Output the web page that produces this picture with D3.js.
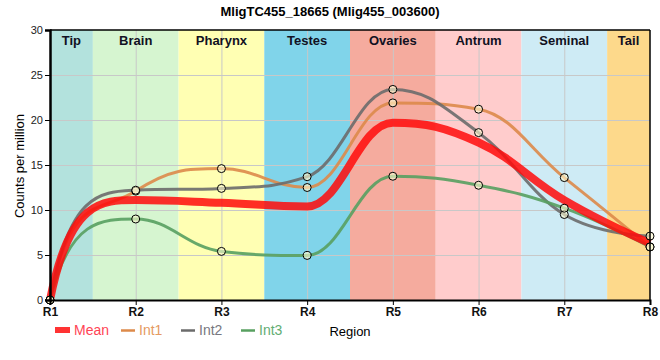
<!DOCTYPE html>
<html><head><meta charset="utf-8">
<script src="https://cdn.jsdelivr.net/npm/d3@7"></script>
<style>body{margin:0;background:#fff}svg{font-family:"Liberation Sans",Arial,sans-serif}</style>
</head><body><svg id="c" width="660" height="360"></svg>
<script>
const regions = ["R1","R2","R3","R4","R5","R6","R7","R8"];
const tissues = ["Tip","Brain","Pharynx","Testes","Ovaries","Antrum","Seminal","Tail"];
const tissueStart = [0, 0.5, 1.5, 2.5, 3.5, 4.5, 5.5, 6.5];
const tissueEnd   = [0.5, 1.5, 2.5, 3.5, 4.5, 5.5, 6.5, 7];
const tissueColors = ["#b3e2dd","#d6f5d0","#ffffb3","#80d4ea","#f5ab9e","#ffcccc","#ceebf5","#fdd98b"];
const meanVals = [0, 11.1, 10.8, 10.4, 19.7, 17.5, 11.1, 6.3];
const int1Vals = [0, 12.1, 14.6, 12.5, 21.9, 21.2, 13.6, 5.9];
const int2Vals = [0, 12.2, 12.4, 13.7, 23.4, 18.6, 9.5, 7.1];
const int3Vals = [0, 9.0, 5.4, 4.95, 13.75, 12.75, 10.2, 5.9];
const yTicks = [0, 5, 10, 15, 20, 25, 30];
const seriesNames = ["Mean","Int1","Int2","Int3"];

// Spline curve (control points at 1/2.5 of the neighbour distance, clamped at extremes)
function CurveSpline(context) { this._context = context; }
CurveSpline.prototype = {
  areaStart() {}, areaEnd() {},
  lineStart() { this._pts = []; },
  point(px, py) { this._pts.push([+px, +py]); },
  lineEnd() {
    const p = this._pts, c = this._context, n = p.length;
    if (!n) return;
    const sm = 1.5, den = sm + 1;
    const lc = [], rc = [];
    for (let i = 1; i < n - 1; i++) {
      const [x0, y0] = p[i-1], [x1, y1] = p[i], [x2, y2] = p[i+1];
      let lx = (sm*x1 + x0)/den, ly = (sm*y1 + y0)/den;
      let rx = (sm*x1 + x2)/den, ry = (sm*y1 + y2)/den;
      let corr = 0;
      if (rx !== lx) corr = ((ry - ly)*(rx - x1))/(rx - lx) + y1 - ry;
      ly += corr; ry += corr;
      if (ly > y0 && ly > y1) { ly = Math.max(y0, y1); ry = 2*y1 - ly; }
      else if (ly < y0 && ly < y1) { ly = Math.min(y0, y1); ry = 2*y1 - ly; }
      if (ry > y2 && ry > y1) { ry = Math.max(y2, y1); ly = 2*y1 - ry; }
      else if (ry < y2 && ry < y1) { ry = Math.min(y2, y1); ly = 2*y1 - ry; }
      lc[i] = [lx, ly]; rc[i] = [rx, ry];
    }
    if (n > 1) rc[0] = [p[0][0] + 0.23*(p[1][0] - p[0][0]), p[1][1]];
    c.moveTo(p[0][0], p[0][1]);
    for (let i = 1; i < n; i++) {
      const a = rc[i-1] || p[i-1], b = lc[i] || p[i];
      c.bezierCurveTo(a[0], a[1], b[0], b[1], p[i][0], p[i][1]);
    }
  }
};
const curveSpline = ctx => new CurveSpline(ctx);

const svg = d3.select("#c");
const L = 50, R = 650, T = 30, B = 300;
const x = d3.scaleLinear().domain([0, regions.length - 1]).range([L, R]);
const y = d3.scaleLinear().domain([0, 30]).range([B, T]);

// bands
svg.append("g").selectAll("rect").data(tissues).join("rect")
  .attr("x", (d,i) => x(tissueStart[i])).attr("y", T)
  .attr("width", (d,i) => x(tissueEnd[i]) - x(tissueStart[i])).attr("height", B - T)
  .attr("fill", (d,i) => tissueColors[i]);

// grid
const g = svg.append("g").attr("stroke", "#c8c8c8").attr("stroke-width", 1);
g.selectAll("line.h").data(yTicks.slice(1, -1)).join("line")
  .attr("x1", L).attr("x2", R).attr("y1", d => y(d) + 0.5).attr("y2", d => y(d) + 0.5);
g.selectAll("line.v").data(regions.slice(1, -1)).join("line")
  .attr("y1", T).attr("y2", B).attr("x1", (d,i) => x(i+1) + 0.5).attr("x2", (d,i) => x(i+1) + 0.5);

// band labels
svg.append("g").selectAll("text").data(tissues).join("text")
  .attr("x", (d,i) => (x(tissueStart[i]) + x(tissueEnd[i])) / 2).attr("y", 45)
  .attr("text-anchor", "middle").attr("font-size", 13).attr("font-weight", "bold")
  .attr("fill", "#111122").text(d => d);

const line = d3.line().x((d,i) => x(i)).y(d => y(d)).curve(curveSpline);
const ints = [
  {vals: int1Vals, color: "#dd8a4a"},
  {vals: int2Vals, color: "#6b6b6b"},
  {vals: int3Vals, color: "#58a060"}
];
ints.forEach(s => {
  svg.append("path").datum(s.vals).attr("d", line).attr("fill", "none")
    .attr("stroke", s.color).attr("stroke-width", 3).attr("stroke-opacity", 0.9);
});
svg.append("path").datum(meanVals).attr("d", line).attr("fill", "none")
  .attr("stroke", "#ff0a0a").attr("stroke-width", 8).attr("stroke-opacity", 0.85);

ints.forEach(s => {
  svg.append("g").selectAll("circle").data(s.vals).join("circle")
    .attr("cx", (d,i) => x(i)).attr("cy", d => y(d)).attr("r", 4)
    .attr("fill", "#fffbd0").attr("fill-opacity", 0.6).attr("stroke", "#000").attr("stroke-width", 1);
});

// frame
svg.append("line").attr("x1", L).attr("x2", R).attr("y1", T).attr("y2", T).attr("stroke", "#000").attr("stroke-width", 1.5);
svg.append("line").attr("x1", R).attr("x2", R).attr("y1", T).attr("y2", B).attr("stroke", "#000").attr("stroke-width", 1.5);

// axes
const ya = svg.append("g").attr("transform", `translate(${L},0)`)
  .call(d3.axisLeft(y).tickValues(yTicks).tickSize(5).tickPadding(2));
ya.select(".domain").attr("stroke-width", 2.5);
ya.selectAll("text").attr("font-size", 11).attr("fill", "#222").attr("font-family", null);
const xa = svg.append("g").attr("transform", `translate(0,${B})`)
  .call(d3.axisBottom(x).tickValues(d3.range(regions.length)).tickFormat(i => regions[i]).tickSize(5).tickPadding(2));
xa.select(".domain").attr("stroke-width", 2);
xa.selectAll("text").attr("font-size", 12).attr("font-weight", "bold").attr("fill", "#111").attr("font-family", null);

// title
svg.append("text").attr("x", 330).attr("y", 16).attr("text-anchor", "middle")
  .attr("font-size", 13).attr("font-weight", "bold").text("MligTC455_18665 (Mlig455_003600)");
// y label
svg.append("text").attr("transform", "translate(24,166) rotate(-90)").attr("text-anchor", "middle")
  .attr("font-size", 13).text("Counts per million");
// x label
svg.append("text").attr("x", 350).attr("y", 336).attr("text-anchor", "middle")
  .attr("font-size", 13).text("Region");

// legend
const leg = svg.append("g");
leg.append("rect").attr("x", 55).attr("y", 327).attr("width", 15).attr("height", 6).attr("fill", "#ff3333");
leg.append("text").attr("x", 74).attr("y", 335).attr("font-size", 14).attr("fill", "#ff4455").text(seriesNames[0]);
const legX = [121, 181, 241];
const legTX = [139, 199, 259];
const legTC = ["#e59a62", "#777780", "#62ad74"];
ints.forEach((s, k) => {
  leg.append("line").attr("x1", legX[k]).attr("x2", legX[k] + 14).attr("y1", 330.5).attr("y2", 330.5)
    .attr("stroke", s.color).attr("stroke-width", 2.5);
  leg.append("text").attr("x", legTX[k]).attr("y", 335).attr("font-size", 14).attr("fill", legTC[k]).text(seriesNames[k+1]);
});
</script></body></html>
